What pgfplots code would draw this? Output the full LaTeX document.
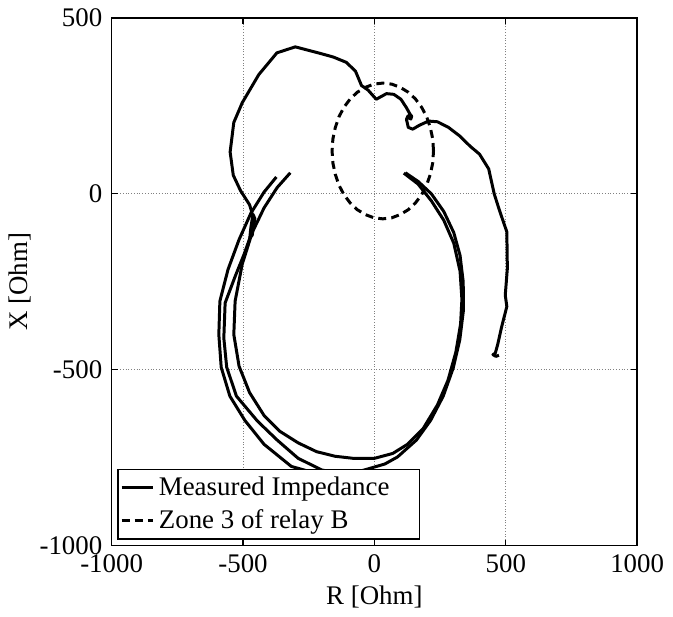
\documentclass[border=0pt]{standalone}
\usepackage{fontspec}
\setmainfont{Liberation Serif}
\usepackage{pgfplots}
\pgfplotsset{compat=1.18}

\begin{document}
\fontsize{13.5}{16}\selectfont
\begin{tikzpicture}
\begin{axis}[
	width=264pt, height=265pt, scale only axis,
	xmin=-1000, xmax=1000, ymin=-1000, ymax=500,
	xtick={-1000,-500,0,500,1000},
	ytick={-1000,-500,0,500},
	/pgf/number format/assume math mode=true,
	/pgf/number format/set thousands separator={},
	tick label style={font=\fontsize{13.5}{16}\selectfont},
	label style={font=\fontsize{13.5}{16}\selectfont},
	xlabel={R [Ohm]}, ylabel={X [Ohm]},
	xlabel style={yshift=3pt}, ylabel style={yshift=-5pt},
	grid=major,
	grid style={densely dotted, gray, line width=0.4pt},
	tick align=inside, tick style={black, line width=0.6pt},
	major tick length=3pt,
	axis line style={line width=0.7pt},
	legend style={at={(0.011,0.011)}, anchor=south west, draw=black,
		line width=0.7pt, font=\fontsize{13.5}{16}\selectfont,
		inner xsep=1pt, inner ysep=1.5pt, row sep=1pt},
	legend cell align=left,
	legend image code/.code={\draw[#1] (0pt,0pt) -- (16pt,0pt);},
]
% upper loop, from the fault squiggle to the end point
\addplot[black, line width=1.5pt, line join=round] coordinates {
(-468,-118) (-460,-95) (-455,-70) (-462,-58) (-470,-95) (-474,-125) (-465,-118)
(-458,-80) (-468,-48) (-475,-31) (-510,10) (-537,53) (-549,119) (-535,203)
(-503,259) (-440,339) (-371,401) (-301,418) (-204,399) (-156,389) (-107,374)
(-72,349) (-49,308) (-24,295) (7,269) (46,285) (74,283) (101,269) (122,245)
(136,226) (142,221) (139,213) (130,216) (128,222) (122,212) (129,189) (146,184)
(171,195) (206,207) (240,205) (282,189) (324,165) (365,135) (400,113)
(435,71) (456,0) (476,-47) (504,-108) (506,-212) (498,-288) (504,-320)
(483,-382) (469,-429) (460,-453) (451,-457) (462,-462) (474,-459)
};
\addlegendentry{Measured Impedance\rule{12pt}{0pt}}
% outer swing loop
\addplot[black, line width=1.5pt, line join=round, forget plot] coordinates {
(-373,48) (-420,5) (-470,-55) (-515,-130) (-557,-215) (-588,-305) (-592,-400)
(-583,-493) (-550,-575) (-493,-644) (-420,-712) (-316,-775) (-220,-795)
(-120,-800) (-38,-785) (40,-768) (88,-748) (160,-700) (214,-644) (262,-575)
(300,-495) (325,-415) (339,-330) (338,-250) (326,-175) (302,-110) (264,-50)
(217,0) (167,35) (118,60)
};
% middle swing path
\addplot[black, line width=1.5pt, line join=round, forget plot] coordinates {
(-468,-113) (-495,-170) (-530,-235) (-568,-310) (-573,-410) (-562,-493)
(-525,-575) (-445,-646) (-370,-700) (-290,-752) (-200,-785) (-120,-797)
};
% inner swing loop
\addplot[black, line width=1.5pt, line join=round, forget plot] coordinates {
(-320,60) (-370,18) (-420,-40) (-465,-110) (-503,-200) (-530,-305) (-535,-400)
(-515,-490) (-475,-565) (-420,-630) (-360,-675) (-290,-708) (-220,-733)
(-150,-746) (-80,-752) (0,-752) (70,-738) (126,-712) (185,-668) (240,-600)
(280,-530) (310,-450) (328,-370) (333,-300) (326,-220) (302,-140) (264,-75)
(217,-20) (166,28) (112,59)
};
% zone 3 characteristic
\addplot[black, line width=1.5pt, dash pattern=on 4pt off 2.6pt] coordinates {
(225,122) (222,156) (213,188) (199,219) (180,246) (156,270) (129,289) (98,303)
(66,312) (32,315) (-2,312) (-34,303) (-65,289) (-92,270) (-116,246) (-135,219)
(-149,188) (-158,156) (-161,122) (-158,88) (-149,56) (-135,25) (-116,-2)
(-92,-26) (-65,-45) (-34,-59) (-2,-68) (32,-71) (66,-68) (98,-59) (129,-45)
(156,-26) (180,-2) (199,25) (213,56) (222,88) (225,122)
};
\addlegendentry{Zone 3 of relay B}
\end{axis}
\end{tikzpicture}
\end{document}
